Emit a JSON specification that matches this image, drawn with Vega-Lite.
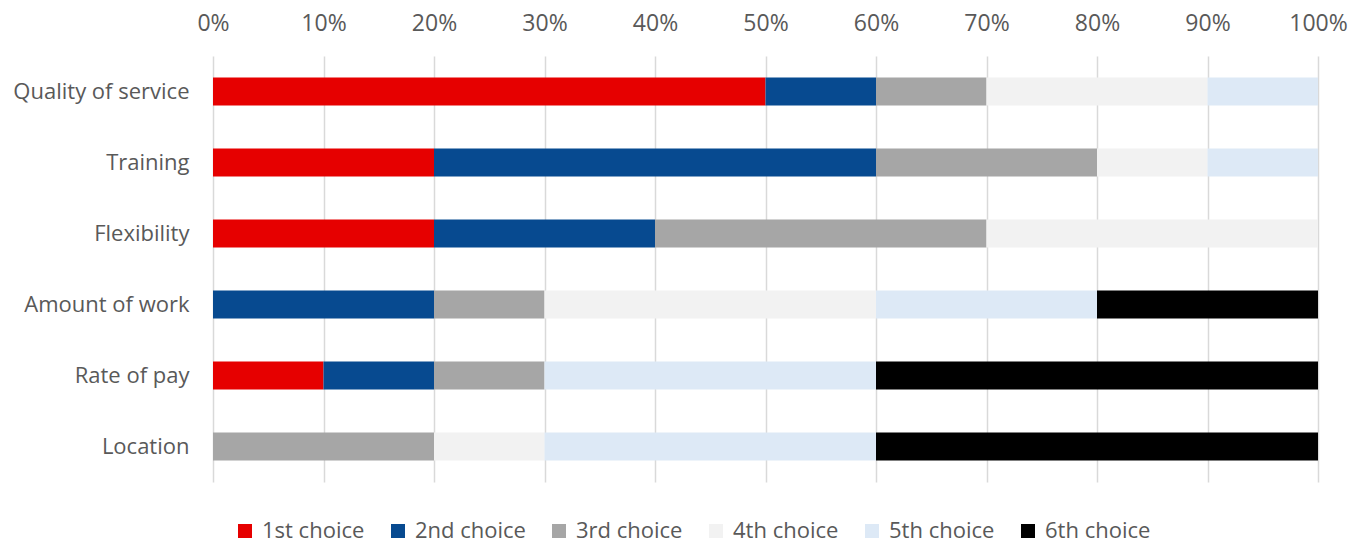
{
  "$schema": "https://vega.github.io/schema/vega-lite/v6.json",
  "width": 1105,
  "height": 426,
  "autosize": "none",
  "padding": {"left": 213, "top": 56, "right": 44, "bottom": 62},
  "config": {"view": {"stroke": null}, "font": "Open Sans"},
  "data": {
    "values": [
      {"item": "Quality of service", "choice": "1st choice", "rank": 1, "share": 0.5},
      {"item": "Quality of service", "choice": "2nd choice", "rank": 2, "share": 0.1},
      {"item": "Quality of service", "choice": "3rd choice", "rank": 3, "share": 0.1},
      {"item": "Quality of service", "choice": "4th choice", "rank": 4, "share": 0.2},
      {"item": "Quality of service", "choice": "5th choice", "rank": 5, "share": 0.1},
      {"item": "Training", "choice": "1st choice", "rank": 1, "share": 0.2},
      {"item": "Training", "choice": "2nd choice", "rank": 2, "share": 0.4},
      {"item": "Training", "choice": "3rd choice", "rank": 3, "share": 0.2},
      {"item": "Training", "choice": "4th choice", "rank": 4, "share": 0.1},
      {"item": "Training", "choice": "5th choice", "rank": 5, "share": 0.1},
      {"item": "Flexibility", "choice": "1st choice", "rank": 1, "share": 0.2},
      {"item": "Flexibility", "choice": "2nd choice", "rank": 2, "share": 0.2},
      {"item": "Flexibility", "choice": "3rd choice", "rank": 3, "share": 0.3},
      {"item": "Flexibility", "choice": "4th choice", "rank": 4, "share": 0.3},
      {"item": "Amount of work", "choice": "2nd choice", "rank": 2, "share": 0.2},
      {"item": "Amount of work", "choice": "3rd choice", "rank": 3, "share": 0.1},
      {"item": "Amount of work", "choice": "4th choice", "rank": 4, "share": 0.3},
      {"item": "Amount of work", "choice": "5th choice", "rank": 5, "share": 0.2},
      {"item": "Amount of work", "choice": "6th choice", "rank": 6, "share": 0.2},
      {"item": "Rate of pay", "choice": "1st choice", "rank": 1, "share": 0.1},
      {"item": "Rate of pay", "choice": "2nd choice", "rank": 2, "share": 0.1},
      {"item": "Rate of pay", "choice": "3rd choice", "rank": 3, "share": 0.1},
      {"item": "Rate of pay", "choice": "5th choice", "rank": 5, "share": 0.3},
      {"item": "Rate of pay", "choice": "6th choice", "rank": 6, "share": 0.4},
      {"item": "Location", "choice": "3rd choice", "rank": 3, "share": 0.2},
      {"item": "Location", "choice": "4th choice", "rank": 4, "share": 0.1},
      {"item": "Location", "choice": "5th choice", "rank": 5, "share": 0.3},
      {"item": "Location", "choice": "6th choice", "rank": 6, "share": 0.4}
    ]
  },
  "mark": {"type": "bar", "size": 28},
  "encoding": {
    "y": {
      "field": "item",
      "type": "nominal",
      "sort": ["Quality of service", "Training", "Flexibility", "Amount of work", "Rate of pay", "Location"],
      "scale": {"paddingInner": 0, "paddingOuter": 0},
      "axis": {"title": null, "domain": false, "ticks": false, "labelFontSize": 22, "labelColor": "#595959", "labelPadding": 24}
    },
    "x": {
      "field": "share",
      "type": "quantitative",
      "stack": "zero",
      "scale": {"domain": [0, 1], "nice": false},
      "axis": {
        "title": null,
        "orient": "top",
        "format": ".0%",
        "values": [0, 0.1, 0.2, 0.3, 0.4, 0.5, 0.6, 0.7, 0.8, 0.9, 1],
        "domain": false,
        "ticks": false,
        "grid": true,
        "gridColor": "#d9d9d9",
        "gridWidth": 1.5,
        "labelFontSize": 23,
        "labelColor": "#595959",
        "labelPadding": 21,
        "labelFlush": false
      }
    },
    "color": {
      "field": "choice",
      "type": "nominal",
      "scale": {
        "domain": ["1st choice", "2nd choice", "3rd choice", "4th choice", "5th choice", "6th choice"],
        "range": ["#e60000", "#074a90", "#a6a6a6", "#f2f2f2", "#dde9f6", "#000000"]
      },
      "legend": {
        "title": null,
        "orient": "none",
        "direction": "horizontal",
        "columns": 6,
        "legendX": 21,
        "legendY": 464,
        "padding": 0,
        "symbolType": "square",
        "symbolSize": 196,
        "symbolStrokeWidth": 0,
        "labelFontSize": 22,
        "labelColor": "#595959",
        "labelOffset": 6,
        "columnPadding": 22
      }
    },
    "order": {"field": "rank", "type": "quantitative"}
  }
}
